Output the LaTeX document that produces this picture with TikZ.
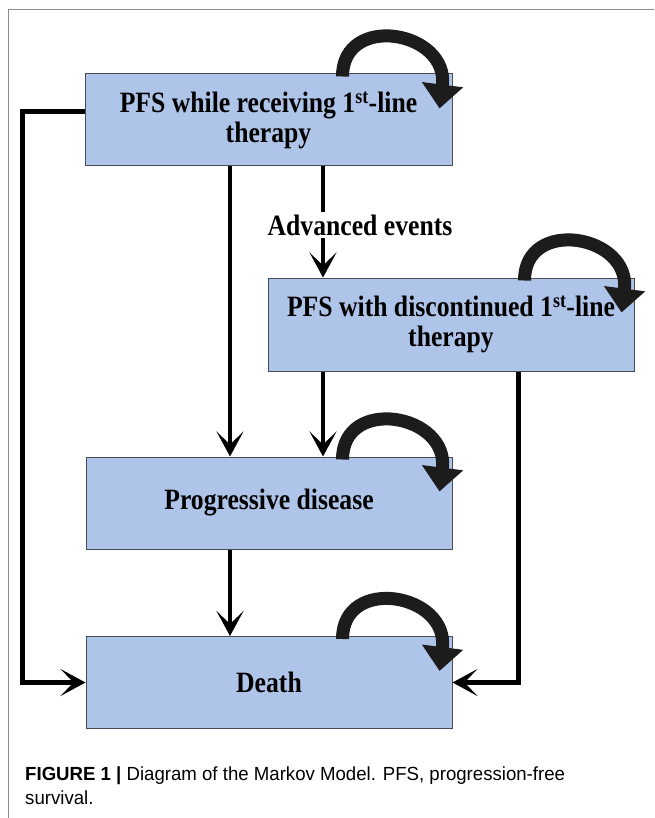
\documentclass[tikz,border=0pt]{standalone}
\usepackage{fontspec}
\setmainfont{Liberation Serif}
\setsansfont{Liberation Sans}
\newfontfamily\boxfont[FakeStretch=0.87]{Liberation Serif}
\newfontfamily\capfont[FakeStretch=0.98]{Liberation Sans}
\usetikzlibrary{arrows.meta,calc}
\definecolor{boxblue}{HTML}{AEC4E8}
\definecolor{boxedge}{HTML}{454C58}
\definecolor{framegray}{HTML}{8C8C8C}
\definecolor{loopfill}{HTML}{1C1C1C}
\begin{document}
\begin{tikzpicture}[x=1pt,y=-1pt,
  box/.style={draw=boxedge, fill=boxblue, line width=1pt, align=center, inner sep=0pt,
    font=\boxfont\bfseries\fontsize{29.5}{30}\selectfont},
  lbl/.style={font=\boxfont\bfseries\fontsize{29.5}{30}\selectfont, inner sep=2pt},
  conn/.style={line width=5pt, line join=miter, -{Stealth[length=25pt,width=27pt,inset=13pt]}},
  varr/.style={line width=3.4pt, -{Stealth[length=25pt,width=27pt,inset=13pt]}},
  vline/.style={line width=3.4pt},
  loopst/.style={line width=13pt, draw=loopfill, -{Triangle[length=24pt,width=40pt]}},
  captext/.style={font=\capfont\fontsize{19}{20}\selectfont, anchor=base west, inner sep=0pt}]
\useasboundingbox (0,0) rectangle (654,818);
\fill[white] (0,0) rectangle (654,818);
\draw[framegray, line width=1pt] (8.5,818) -- (8.5,10) -- (654,10);

\node[box, minimum width=367, minimum height=92] (b1) at (268.5,120) {PFS while receiving 1\textsuperscript{st}-line\\therapy};
\node[box, minimum width=366, minimum height=93] (b2) at (451,324.5) {PFS with discontinued 1\textsuperscript{st}-line\\therapy};
\node[box, minimum width=366, minimum height=92] (b3) at (269,503) {Progressive disease};
\node[box, minimum width=366, minimum height=92] (b4) at (269,682.5) {Death};
\node[lbl] (ae) at (360,225) {Advanced events};

\coordinate (xa) at (230,0);
\coordinate (xb) at (323,0);
\coordinate (L1) at (22,112);
\coordinate (L2) at (22,682.5);
\coordinate (R2) at (518,682.5);

% left and right connectors
\draw[conn] (b1.west |- L1) -- (L1) -- (L2) -- (b4.west);
\draw[conn] (b2.south -| R2) -- (R2) -- (b4.east);

% vertical arrows
\draw[varr] (b1.south -| xa) -- (b3.north -| xa);
\draw[vline] (b1.south -| xb) -- (ae.north -| xb);
\draw[varr] (ae.south -| xb) -- (b2.north -| xb);
\draw[varr] (b2.south -| xb) -- (b3.north -| xb);
\draw[varr] (b3.south -| xa) -- (b4.north -| xa);

% self loops
\foreach \b in {b1,b2,b3,b4}{
  \draw[loopst] ($(\b.north east)+(-110,3)$) .. controls +(0,-64) and +(10,-78) .. ($(\b.north east)+(-13,35)$);
}

\node[captext] (c1) at (25,780) {\textbf{FIGURE 1 |} Diagram of the Markov Model. PFS, progression-free};
\node[captext] (c2) at (25,804) {survival.};
\end{tikzpicture}
\end{document}
